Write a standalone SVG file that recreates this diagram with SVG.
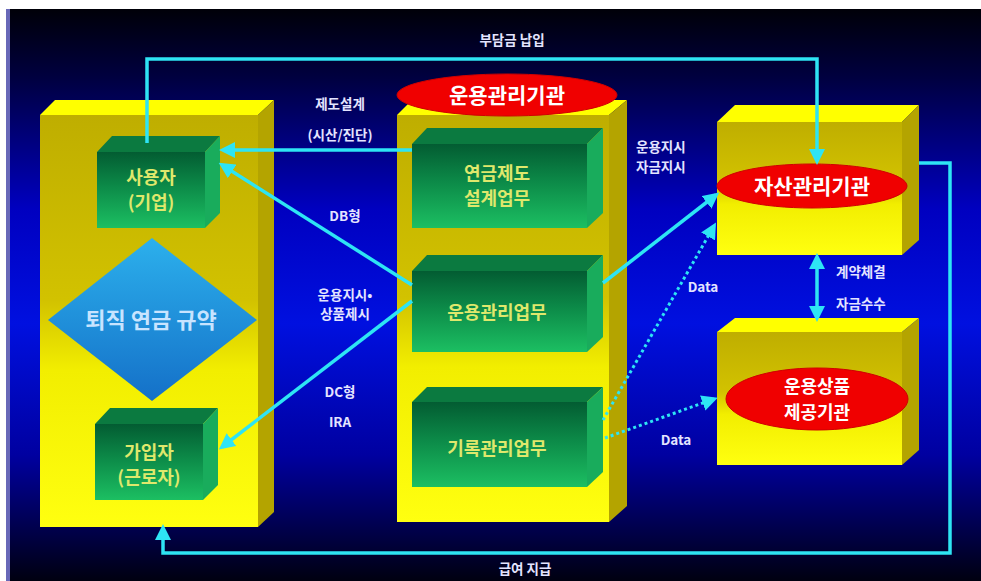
<svg xmlns="http://www.w3.org/2000/svg" width="981" height="581" viewBox="0 0 981 581">
<defs>
<linearGradient id="bg" x1="0" y1="0" x2="0" y2="1">
<stop offset="0" stop-color="#000008"/>
<stop offset="0.12" stop-color="#000040"/>
<stop offset="0.35" stop-color="#0000c0"/>
<stop offset="0.55" stop-color="#0010e0"/>
<stop offset="0.78" stop-color="#0000a0"/>
<stop offset="1" stop-color="#000010"/>
</linearGradient>
<linearGradient id="yfront" x1="0" y1="0" x2="0" y2="1">
<stop offset="0" stop-color="#bfae00"/>
<stop offset="0.45" stop-color="#d2c200"/>
<stop offset="0.62" stop-color="#f2ee00"/>
<stop offset="1" stop-color="#ffff10"/>
</linearGradient>
<linearGradient id="gfront" x1="0" y1="0" x2="0" y2="1">
<stop offset="0" stop-color="#035c32"/>
<stop offset="0.45" stop-color="#0c8a48"/>
<stop offset="1" stop-color="#1cbf62"/>
</linearGradient>
<linearGradient id="dia" x1="0" y1="0" x2="0" y2="1">
<stop offset="0" stop-color="#2cb0ec"/>
<stop offset="1" stop-color="#1470c8"/>
</linearGradient>
<marker id="ah" markerUnits="userSpaceOnUse" markerWidth="16" markerHeight="16" refX="12" refY="8" orient="auto-start-reverse" viewBox="0 0 16 16">
<path d="M0,0 L16,8 L0,16 z" fill="#2ee4f4"/>
</marker>
<style>
.yt{fill:#ffff00}
.yf{fill:url(#yfront)}
.ys{fill:#b4a400}
.gt{fill:#0b7a40}
.gf{fill:url(#gfront)}
.gs{fill:#19ac5c}
.gtx{font-family:"Noto Sans CJK KR","Noto Sans",sans-serif;font-weight:bold;font-size:18px;fill:#dfe86c;text-anchor:middle}
.etx{font-family:"Noto Sans CJK KR","Noto Sans",sans-serif;font-weight:bold;font-size:21px;fill:#ffffff;text-anchor:middle}
.lb{font-family:"Noto Sans CJK KR","Liberation Sans",sans-serif;font-weight:bold;font-size:13.5px;fill:#e4e4ff}
.ell{fill:#f00000;stroke:#d00000;stroke-width:1}
.c{fill:none;stroke:#2ee4f4;stroke-width:3.5}
.d{fill:none;stroke:#2ee4f4;stroke-width:3;stroke-dasharray:3 3}
</style>
</defs>
<rect x="0" y="0" width="981" height="581" fill="#ffffff"/>
<rect x="6" y="9" width="975" height="572" fill="url(#bg)"/>
<rect x="6" y="9" width="4" height="572" fill="#6868b8"/>

<g id="left-box">
<polygon class="yt" points="40,115 55,100 274,100 258,115"/>
<polygon class="ys" points="258,115 274,100 274,512 258,527"/>
<rect class="yf" x="40" y="115" width="218" height="412"/>
</g>
<g id="mid-box">
<polygon class="yt" points="397,115 412,100 627,100 609,115"/>
<polygon class="ys" points="609,115 627,100 627,506 609,522"/>
<rect class="yf" x="397" y="115" width="212" height="407"/>
</g>
<g id="asset-box">
<polygon class="yt" points="717,122 735,105 919,105 902,122"/>
<polygon class="ys" points="902,122 919,105 919,240 902,255"/>
<rect class="yf" x="717" y="122" width="185" height="133"/>
<ellipse class="ell" cx="812" cy="186" rx="95" ry="22"/>
<text class="etx" x="812" y="194">자산관리기관</text>
</g>
<g id="product-box">
<polygon class="yt" points="717,332 735,318 919,318 902,332"/>
<polygon class="ys" points="902,332 919,318 919,450 902,465"/>
<rect class="yf" x="717" y="332" width="185" height="133"/>
<ellipse class="ell" cx="817" cy="399" rx="91" ry="31"/>
<text class="etx" x="817" y="393" style="font-size:18px">운용상품</text>
<text class="etx" x="817" y="419" style="font-size:18px">제공기관</text>
</g>
<g id="mgmt-label">
<ellipse class="ell" cx="507" cy="95" rx="110" ry="21"/>
<text class="etx" x="507" y="103">운용관리기관</text>
</g>
<g id="employer">
<polygon class="gt" points="97,152 112,136 220,136 205,152"/>
<polygon class="gs" points="205,152 220,136 220,213 205,228"/>
<rect class="gf" x="97" y="152" width="108" height="76"/>
<text class="gtx" x="151" y="184">사용자</text>
<text class="gtx" x="151" y="209">(기업)</text>
</g>
<g id="rules">
<polygon fill="url(#dia)" points="152,238 257,320 152,401 48,320"/>
<text x="151" y="328" style="font-family:'Noto Sans CJK KR',sans-serif;font-weight:bold;font-size:22px;fill:#c8e4ff;text-anchor:middle">퇴직 연금 규약</text>
</g>
<g id="member">
<polygon class="gt" points="95,424 110,408 218,408 203,424"/>
<polygon class="gs" points="203,424 218,408 218,485 203,500"/>
<rect class="gf" x="95" y="424" width="108" height="76"/>
<text class="gtx" x="149" y="459">가입자</text>
<text class="gtx" x="149" y="484">(근로자)</text>
</g>
<g id="design">
<polygon class="gt" points="412,144 427,128 603,128 587,144"/>
<polygon class="gs" points="587,144 603,128 603,213 587,228"/>
<rect class="gf" x="412" y="144" width="175" height="84"/>
<text class="gtx" x="497" y="180">연금제도</text>
<text class="gtx" x="497" y="205">설계업무</text>
</g>
<g id="operation">
<polygon class="gt" points="412,271 427,255 603,255 587,271"/>
<polygon class="gs" points="587,271 603,255 603,337 587,352"/>
<rect class="gf" x="412" y="271" width="175" height="81"/>
<text class="gtx" x="497" y="319">운용관리업무</text>
</g>
<g id="records">
<polygon class="gt" points="412,402 427,387 603,387 587,402"/>
<polygon class="gs" points="587,402 603,387 603,472 587,487"/>
<rect class="gf" x="412" y="402" width="175" height="85"/>
<text class="gtx" x="497" y="455">기록관리업무</text>
</g>

<g id="connectors">
<path class="c" d="M147,143 V59 H817 V161" marker-end="url(#ah)"/>
<path class="c" d="M412,150 H223" marker-end="url(#ah)"/>
<path class="c" d="M412,285 L222,165" marker-end="url(#ah)"/>
<path class="c" d="M412,301 L222,447" marker-end="url(#ah)"/>
<path class="c" d="M603,283 L716,195" marker-end="url(#ah)"/>
<path class="d" d="M603,420 L714,226" marker-end="url(#ah)"/>
<path class="d" d="M605,438 L714,399" marker-end="url(#ah)"/>
<path class="c" d="M817,257 V318" marker-start="url(#ah)" marker-end="url(#ah)"/>
<path class="c" d="M919,163 H950 V553 H163 V528" marker-end="url(#ah)"/>
</g>

<g id="labels">
<text class="lb" x="512" y="45" text-anchor="middle">부담금 납입</text>
<text class="lb" x="340" y="109" text-anchor="middle">제도설계</text>
<text class="lb" x="340" y="140" text-anchor="middle">(시산/진단)</text>
<text class="lb" x="345" y="221" text-anchor="middle">DB형</text>
<text class="lb" x="345" y="300" text-anchor="middle">운용지시•</text>
<text class="lb" x="345" y="319" text-anchor="middle">상품제시</text>
<text class="lb" x="340" y="397" text-anchor="middle">DC형</text>
<text class="lb" x="340" y="427" text-anchor="middle">IRA</text>
<text class="lb" x="636" y="152">운용지시</text>
<text class="lb" x="636" y="172">자금지시</text>
<text class="lb" x="703" y="292" text-anchor="middle">Data</text>
<text class="lb" x="676" y="445" text-anchor="middle">Data</text>
<text class="lb" x="836" y="277">계약체결</text>
<text class="lb" x="836" y="309">자금수수</text>
<text class="lb" x="525" y="574" text-anchor="middle">급여 지급</text>
</g>
</svg>
